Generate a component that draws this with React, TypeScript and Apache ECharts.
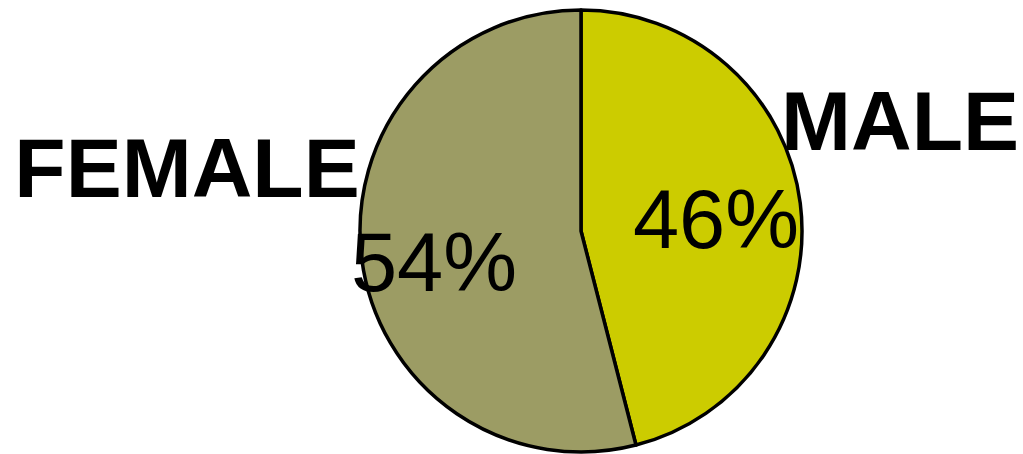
import React, { useEffect, useRef } from "react";
import * as echarts from "echarts";

const categories = ["MALE", "FEMALE"];
const values = [46, 54];
const colors = ["#CCCC00", "#9C9C64"];
const percentLabels = ["46%", "54%"];

export default function App() {
  const ref = useRef<HTMLDivElement>(null);
  useEffect(() => {
    if (!ref.current) return;
    const chart = echarts.init(ref.current, null, { renderer: "svg" });
    const namePos = [
      { x: 900, y: 121 },
      { x: 187, y: 168 },
    ];
    const pctPos = [
      { x: 716, y: 219 },
      { x: 434, y: 262 },
    ];
    const graphics: any[] = [];
    categories.forEach((c, i) => {
      graphics.push({
        type: "text",
        x: namePos[i].x,
        y: namePos[i].y,
        z: 100,
        style: {
          text: c,
          font: "bold 84px 'Liberation Sans', Arial, sans-serif",
          fill: "#000",
          textAlign: "center",
          textVerticalAlign: "middle",
        },
      });
      graphics.push({
        type: "text",
        x: pctPos[i].x,
        y: pctPos[i].y,
        z: 100,
        style: {
          text: percentLabels[i],
          font: "83px 'Liberation Sans', Arial, sans-serif",
          fill: "#000",
          textAlign: "center",
          textVerticalAlign: "middle",
        },
      });
    });
    chart.setOption({
      animation: false,
      backgroundColor: "#fff",
      series: [
        {
          type: "pie",
          center: [581, 231],
          radius: [0, 221],
          startAngle: 90,
          clockwise: true,
          label: { show: false },
          labelLine: { show: false },
          emphasis: { disabled: true },
          itemStyle: { borderColor: "#000", borderWidth: 3.5 },
          data: categories.map((c, i) => ({
            name: c,
            value: values[i],
            itemStyle: { color: colors[i] },
          })),
        },
      ],
      graphic: graphics,
    });
    return () => chart.dispose();
  }, []);
  return (
    <div
      ref={ref}
      style={{ position: "fixed", left: 0, top: 0, width: 1023, height: 454 }}
    />
  );
}
